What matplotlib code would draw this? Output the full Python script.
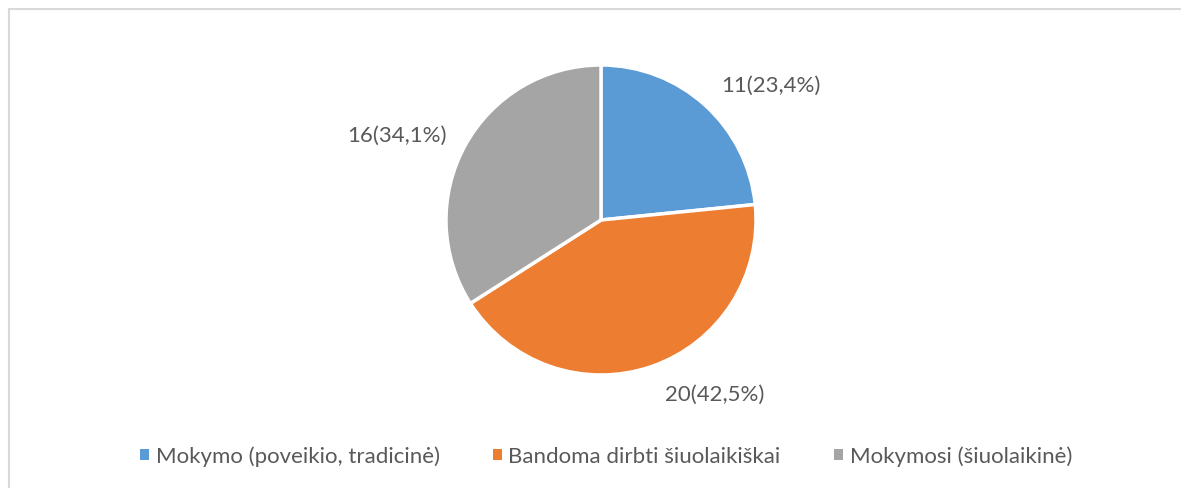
import matplotlib.pyplot as plt
from matplotlib.patches import Patch, Rectangle

plt.rcParams['font.family'] = ['Lato', 'DejaVu Sans']

categories = ['Mokymo (poveikio, tradicinė)', 'Bandoma dirbti šiuolaikiškai', 'Mokymosi (šiuolaikinė)']
counts = [11, 20, 16]
percents = ['23,4', '42,5', '34,1']
colors = ['#5B9BD5', '#ED7D31', '#A5A5A5']
text_color = '#595959'

# label placement in units of the pie radius
label_pos = [(1.097, 0.871), (0.735, -1.123), (-1.316, 0.548)]

W, H = 1181, 489
fig = plt.figure(figsize=(W / 100, H / 100), dpi=100)

# chart area border (runs off the right and bottom edges)
fig.patches.append(Rectangle((8.5 / W, -0.05), 1.1, 1 - 9.5 / H + 0.05,
                             transform=fig.transFigure, fill=False,
                             edgecolor='#D9D9D9', linewidth=1.5))

cx, cy, r = 601, 221, 155
ax = fig.add_axes([(cx - r) / W, (H - cy - r) / H, 2 * r / W, 2 * r / H])
ax.pie(counts, colors=colors, startangle=90, counterclock=False, radius=1,
       wedgeprops=dict(edgecolor='white', linewidth=2.5))
ax.set_xlim(-1, 1)
ax.set_ylim(-1, 1)
ax.set_aspect('equal')
ax.axis('off')

for n, p, pos in zip(counts, percents, label_pos):
    ax.text(pos[0], pos[1], f'{n}({p}%)', ha='center', va='center',
            fontsize=16, color=text_color, clip_on=False)

handles = [Patch(facecolor=c, edgecolor='none') for c in colors]
fig.legend(handles, categories, loc='center', bbox_to_anchor=(606 / W, 1 - 457 / H),
           ncol=3, frameon=False, fontsize=16, labelcolor=text_color,
           handlelength=0.4, handleheight=0.4, handletextpad=0.3,
           columnspacing=2.4)

fig.savefig('out.png', dpi=100)
